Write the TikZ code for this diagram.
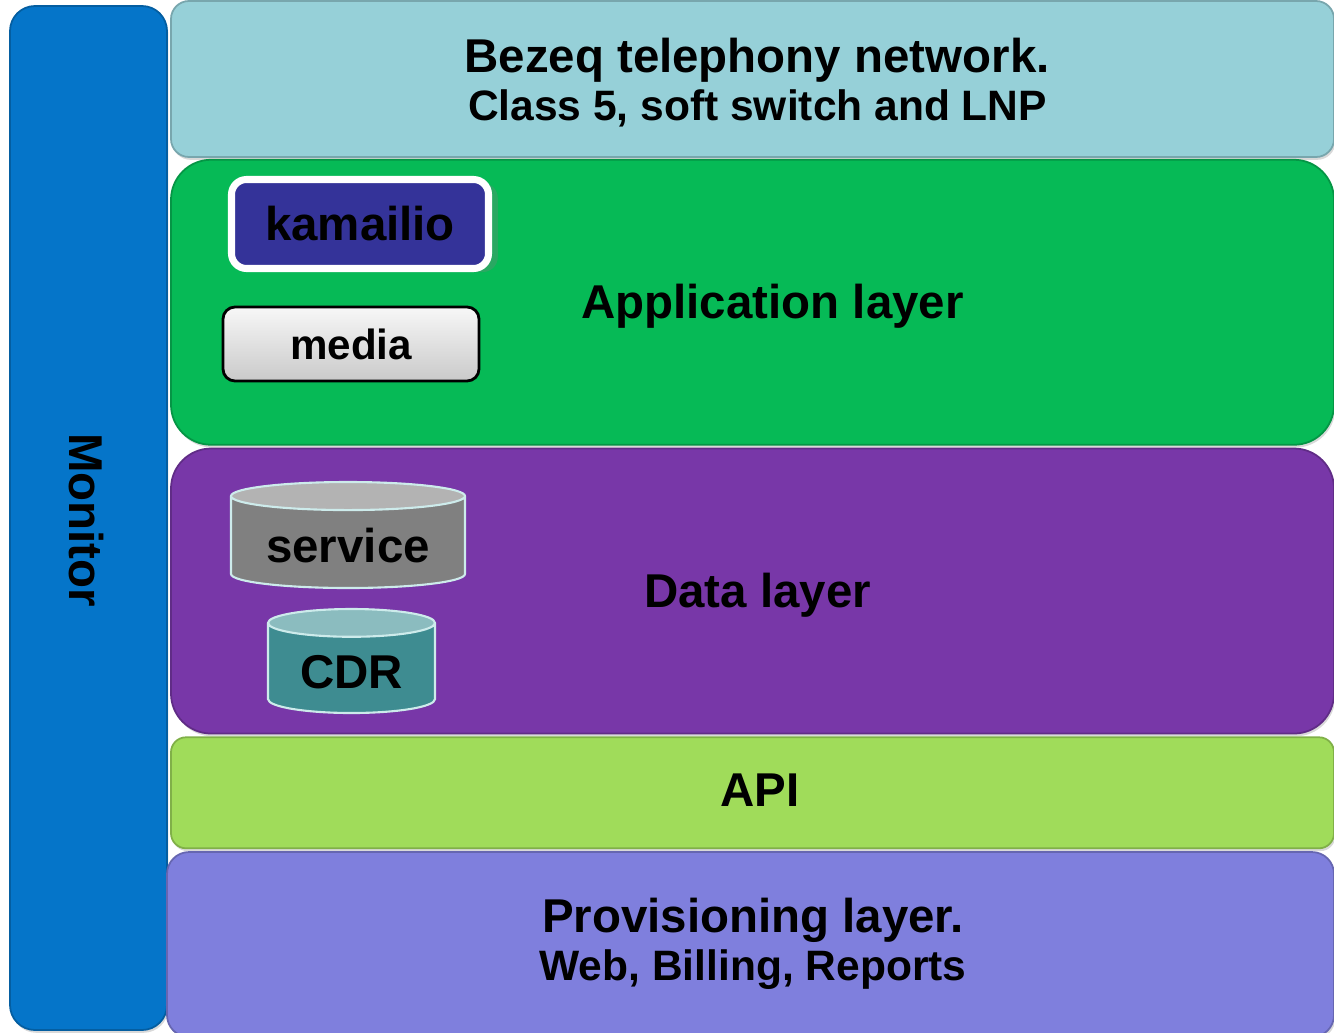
\documentclass[tikz,border=0pt]{standalone}
\usepackage{fontspec}
\setmainfont{Liberation Sans}
\usetikzlibrary{positioning,shapes.geometric,shadows}

\definecolor{monitorblue}{HTML}{0575C9}
\definecolor{netcyan}{HTML}{96D0D8}
\definecolor{appgreen}{HTML}{06BA56}
\definecolor{datapurple}{HTML}{7837A8}
\definecolor{apigreen}{HTML}{A0DC5A}
\definecolor{provblue}{HTML}{7F7FDD}
\definecolor{kamnavy}{HTML}{343399}
\definecolor{servgray}{HTML}{808080}
\definecolor{servtop}{HTML}{B3B3B3}
\definecolor{cdrteal}{HTML}{3E8C91}
\definecolor{cdrtop}{HTML}{8BBCBF}
\definecolor{dbedge}{HTML}{CDEBEB}

\begin{document}
\begin{tikzpicture}[thick,
    layer/.style={rectangle,draw=#1!80!black,fill=#1,line width=0.5pt,minimum width=11.63cm,
                  drop shadow={opacity=0.3,shadow xshift=0.4pt,shadow yshift=-0.8pt}},
    big/.style={font=\fontsize{13.5}{16}\selectfont\bfseries,anchor=base},
    small/.style={font=\fontsize{12.1}{14}\selectfont\bfseries,anchor=base},
    db node/.style={cylinder,shape border rotate=90,draw=dbedge,line width=0.6pt,anchor=shape center,
                    cylinder uses custom fill,font=\fontsize{13.5}{16}\selectfont\bfseries}]

  \useasboundingbox (0,0) rectangle (13.34,10.32);

  \node[layer=monitorblue,rounded corners=0.25cm,minimum width=1.57cm,minimum height=10.24cm] (monitor) at (0.885,5.14) {};
  \node[layer=netcyan,rounded corners=0.18cm,minimum height=1.56cm] (net) at (7.525,9.53) {};
  \node[layer=appgreen,rounded corners=0.4cm,minimum height=2.85cm] (app) [below=0.01cm of net] {};
  \node[layer=datapurple,rounded corners=0.4cm,minimum height=2.85cm] (data) [below=0.02cm of app] {};
  \node[layer=apigreen,rounded corners=0.15cm,minimum height=1.11cm] (api) [below=0.02cm of data] {};
  \node[layer=provblue,rounded corners=0.22cm,minimum width=11.67cm,minimum height=1.85cm] (prov) [below=0.02cm of api,xshift=-0.02cm] {};

  \node[big] (netlabel) at (7.57,9.60) {Bezeq telephony network.};
  \node[small] (netsub) at (7.575,9.12) {Class 5, soft switch and LNP};
  \node[big] (applabel) at (7.725,7.14) {Application layer};
  \node[big] (datalabel) at (7.575,4.25) {Data layer};
  \node[big] (apilabel) at (7.60,2.26) {API};
  \node[big] (provlabel) at (7.53,1.00) {Provisioning layer.};
  \node[small] (provsub) at (7.53,0.52) {Web, Billing, Reports};
  \node[big,anchor=center,rotate=-90] (monlabel) at (0.86,5.12) {Monitor};

  \node[rounded corners=0.15cm,fill=kamnavy,draw=white,line width=2pt,minimum width=2.57cm,minimum height=0.89cm,
        font=\fontsize{13.5}{16}\selectfont\bfseries,drop shadow={opacity=0.3,shadow yshift=-1pt}] (kam) at (3.60,8.08) {kamailio};
  \node[rounded corners=0.12cm,top color=gray!6,bottom color=gray!42,draw=black,line width=0.8pt,
        minimum width=2.56cm,minimum height=0.74cm,font=\fontsize{12}{14}\selectfont\bfseries] (media) at (3.51,6.88) {media};

  \node[db node,cylinder body fill=servgray,cylinder end fill=servtop,aspect=0.15,
        minimum width=2.34cm,minimum height=1.06cm] (service) at (3.48,4.97) {service};
  \node[db node,cylinder body fill=cdrteal,cylinder end fill=cdrtop,aspect=0.22,
        minimum width=1.67cm,minimum height=1.04cm] (cdr) at (3.515,3.71) {CDR};

\end{tikzpicture}
\end{document}
